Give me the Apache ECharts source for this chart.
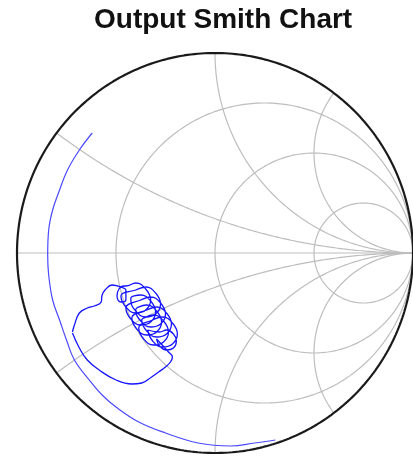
<!DOCTYPE html>
<html>
<head>
<meta charset="utf-8">
<script src="https://cdn.jsdelivr.net/npm/echarts@6/dist/echarts.min.js"></script>
<style>html,body{margin:0;padding:0;background:#fff}#c{width:413px;height:457px}</style>
</head>
<body>
<div id="c"></div>
<script>
// Smith chart grid values
var resistanceValues = [1/3, 1, 3];
var reactanceValues = [1/3, 1, 2, -1/3, -1, -2];

// Reflection coefficient trace: [Re, Im]
var outerArc = [
  [-0.62,0.60],[-0.685,0.515],[-0.745,0.415],[-0.785,0.315],[-0.82,0.215],[-0.84,0.115],
  [-0.845,-0.01],[-0.84,-0.11],[-0.82,-0.235],[-0.785,-0.335],[-0.75,-0.435],[-0.71,-0.535],
  [-0.635,-0.635],[-0.57,-0.71],[-0.50,-0.77],[-0.385,-0.845],[-0.25,-0.90],[-0.085,-0.95],
  [0.08,-0.965],[0.20,-0.95],[0.305,-0.935]
];
var cloudTrace = [
  [-0.72,-0.395],[-0.71,-0.36],[-0.685,-0.30],[-0.645,-0.275],[-0.61,-0.265],[-0.575,-0.245],
  [-0.57,-0.21],[-0.555,-0.185],[-0.52,-0.16],[-0.49,-0.165],
  [-0.475,-0.17],[-0.45,-0.185],[-0.45,-0.235],[-0.475,-0.245],[-0.495,-0.215],[-0.485,-0.18],[-0.46,-0.165],
  [-0.45,-0.165],[-0.40,-0.15],[-0.35,-0.18],[-0.325,-0.235],[-0.35,-0.285],[-0.40,-0.30],[-0.45,-0.27],[-0.475,-0.215],
  [-0.40,-0.185],[-0.35,-0.17],[-0.30,-0.20],[-0.275,-0.255],[-0.30,-0.305],[-0.35,-0.32],[-0.40,-0.29],[-0.425,-0.235],
  [-0.425,-0.225],[-0.375,-0.21],[-0.325,-0.24],[-0.30,-0.295],[-0.325,-0.345],[-0.375,-0.36],[-0.425,-0.33],[-0.45,-0.275],
  [-0.375,-0.235],[-0.325,-0.22],[-0.275,-0.25],[-0.25,-0.305],[-0.275,-0.355],[-0.325,-0.37],[-0.375,-0.34],[-0.40,-0.285],
  [-0.395,-0.275],[-0.345,-0.26],[-0.295,-0.29],[-0.27,-0.345],[-0.295,-0.395],[-0.345,-0.41],[-0.395,-0.38],[-0.42,-0.325],
  [-0.345,-0.285],[-0.295,-0.27],[-0.245,-0.30],[-0.22,-0.355],[-0.245,-0.405],[-0.295,-0.42],[-0.345,-0.39],[-0.37,-0.335],
  [-0.36,-0.325],[-0.31,-0.31],[-0.26,-0.34],[-0.235,-0.395],[-0.26,-0.445],[-0.31,-0.46],[-0.36,-0.43],[-0.385,-0.375],
  [-0.315,-0.335],[-0.265,-0.32],[-0.215,-0.35],[-0.19,-0.405],[-0.215,-0.455],[-0.265,-0.47],[-0.315,-0.44],[-0.34,-0.385],
  [-0.28,-0.395],[-0.245,-0.385],[-0.21,-0.405],[-0.195,-0.44],[-0.21,-0.475],[-0.245,-0.485],[-0.28,-0.465],[-0.295,-0.43],
  [-0.235,-0.495],[-0.215,-0.52],
  [-0.225,-0.545],[-0.25,-0.57],[-0.285,-0.595],[-0.32,-0.62],[-0.37,-0.65],[-0.42,-0.655],
  [-0.50,-0.635],[-0.585,-0.585],[-0.645,-0.535],[-0.685,-0.475],[-0.72,-0.40]
];

function resistanceCircle(r) {
  var pts = [], c = r / (1 + r), rad = 1 / (1 + r);
  for (var i = 0; i <= 360; i++) {
    var t = i * Math.PI / 180;
    pts.push([c + rad * Math.cos(t), rad * Math.sin(t)]);
  }
  return pts;
}
function reactanceArc(x) {
  var pts = [];
  for (var i = 0; i <= 400; i++) {
    var u = i / 400 * Math.PI / 2 * 0.9999;
    var r = Math.tan(u);
    var d = (r + 1) * (r + 1) + x * x;
    pts.push([(r * r + x * x - 1) / d, 2 * x / d]);
  }
  pts.push([1, 0]);
  return pts;
}

var gridColor = '#bdbdbd';
var series = [];
resistanceValues.forEach(function (r) {
  series.push({type:'line', data: resistanceCircle(r), showSymbol:false, silent:true,
    lineStyle:{color:gridColor, width:1.2}, z:1});
});
reactanceValues.forEach(function (x) {
  series.push({type:'line', data: reactanceArc(x), showSymbol:false, silent:true,
    lineStyle:{color:gridColor, width:1.2}, z:1});
});
series.push({type:'line', data:[[-1,0],[1,0]], showSymbol:false, silent:true,
  lineStyle:{color:gridColor, width:1.2}, z:1});
series.push({type:'line', data: resistanceCircle(0), showSymbol:false, silent:true,
  lineStyle:{color:'#1a1a1a', width:2.2}, z:2});
series.push({type:'line', data: outerArc, showSymbol:false, smooth:0.4, silent:true,
  lineStyle:{color:'#4a4aff', width:1.2}, z:3});
series.push({type:'line', data: cloudTrace, showSymbol:false, smooth:0.45, silent:true,
  lineStyle:{color:'#1414ff', width:1.3}, z:3});

var chart = echarts.init(document.getElementById('c'));
chart.setOption({
  animation:false,
  backgroundColor:'#fff',
  title:{text:'Output Smith Chart', left:94, top:6, padding:0,
    textStyle:{fontFamily:'Liberation Sans, Arial, sans-serif', fontWeight:'bold', fontSize:28, color:'#111'}},
  grid:{left:17, top:53, width:400, height:400},
  xAxis:{type:'value', min:-1, max:1, show:false},
  yAxis:{type:'value', min:-1, max:1, show:false},
  series: series
});
</script>
</body>
</html>
